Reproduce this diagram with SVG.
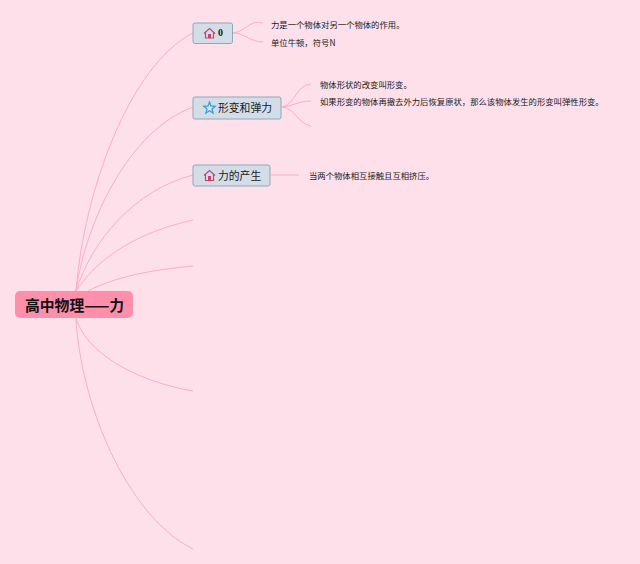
<svg xmlns="http://www.w3.org/2000/svg" width="640" height="564" viewBox="0 0 640 564">
<style>
text{font-family:"Noto Sans CJK SC","Liberation Sans",sans-serif;fill:#1a1a1a}
.c{fill:none;stroke:#fbaec4;stroke-width:1}
.n{fill:#d3dde8;stroke:#8fa9b5;stroke-width:1}
.l{font-size:8.350px}
.t{font-size:10.800px}
.h{fill:none;stroke:#d0406e;stroke-width:1.2}
.s{fill:#d5e6f2;stroke:#3c9fd6;stroke-width:1.3}
</style>
<rect width="640" height="564" fill="#fde0e9"/>
<g id="connectors">
<path class="c" d="M76 291C84 190 130 65 193 33"/>
<path class="c" d="M76 291C86 220 130 130 193 107"/>
<path class="c" d="M76 291C92 240 135 190 193 175"/>
<path class="c" d="M76 291C100 255 140 232 193 220"/>
<path class="c" d="M88 291C115 277 150 270 193 266"/>
<path class="c" d="M76 318C85 350 130 380 193 391"/>
<path class="c" d="M76 318C80 400 125 515 193 549"/>
<path class="c" d="M233 33C245 32 250 19 263 23"/>
<path class="c" d="M233 33C245 33 250 42 263 42"/>
<path class="c" d="M282 107C295 105 296 85 311 84"/>
<path class="c" d="M282 107C294 106 298 101 311 101"/>
<path class="c" d="M282 107C295 108 298 124 311 126"/>
<path class="c" d="M271 175L299 175"/>
</g>
<g id="root">
<rect x="15" y="291" width="118" height="27" rx="5" fill="#fe8fab"/>
<text x="25" y="311" font-size="14.800" font-weight="700" style="fill:#111">高中物理——力</text>
</g>
<g id="node-0">
<rect class="n" x="193" y="23" width="39.500" height="20.500" rx="2"/>
<path class="h" d="M204 33.500L209.500 28.500L215 33.500M205.500 32.500V38H213.500V32.500"/>
<rect x="208" y="34" width="3" height="4" fill="#d0406e"/>
<text x="218" y="36" font-size="10" font-weight="700" style="font-family:'Liberation Serif',serif">0</text>
</g>
<g id="node-deform">
<rect class="n" x="193" y="97" width="88" height="22" rx="2"/>
<path class="s" d="M209.500 102L211 106L215.200 106.200L212 108.900L213.100 113L209.500 110.700L205.900 113L207 108.900L203.800 106.200L208 106Z"/>
<text x="218" y="112" class="t">形变和弹力</text>
</g>
<g id="node-origin">
<rect class="n" x="193" y="165" width="77" height="21" rx="2"/>
<path class="h" d="M204 175.500L209.500 170.500L215 175.500M205.500 174.500V180.500H213.500V174.500"/>
<rect x="208" y="176" width="3" height="4.500" fill="#d0406e"/>
<text x="218" y="180" class="t">力的产生</text>
</g>
<g id="leaf-1"><text x="271" y="27.500" class="l">力是一个物体对另一个物体的作用。</text></g>
<g id="leaf-2"><text x="271" y="45.500" class="l">单位牛顿，符号N</text></g>
<g id="leaf-3"><text x="320" y="87.500" class="l">物体形状的改变叫形变。</text></g>
<g id="leaf-4"><text x="320" y="104.500" class="l">如果形变的物体再撤去外力后恢复原状，那么该物体发生的形变叫弹性形变。</text></g>
<g id="leaf-5"><text x="309" y="178.500" class="l">当两个物体相互接触且互相挤压。</text></g>
</svg>
